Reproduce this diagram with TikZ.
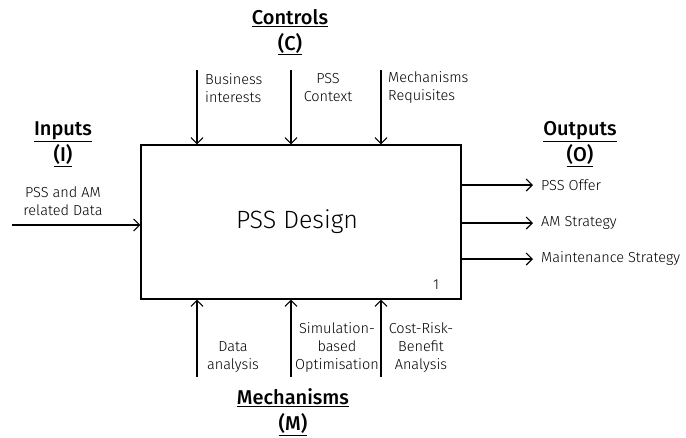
\documentclass[tikz,border=0pt]{standalone}
\usepackage{fontspec}
\setmainfont{Fira Sans}[UprightFont={* Light},BoldFont={* Medium}]
\usetikzlibrary{arrows.meta}
\begin{document}
\begin{tikzpicture}[x=1pt,y=-1pt,
  conn/.style={line width=1.2pt,-{Straight Barb[length=6pt,width=12pt,line width=1.1pt]}},
  lbl/.style={font=\fontsize{14.5}{18}\selectfont,align=center,inner sep=0pt},
  head/.style={font=\fontsize{20}{26}\selectfont\bfseries,align=center,inner sep=0pt}]
\useasboundingbox (0,0) rectangle (686,437);
% activity box
\node[draw,line width=1.2pt,minimum width=320pt,minimum height=154pt,inner sep=0pt] (box) at (301,222) {};
\node[font=\fontsize{25}{30}\selectfont] (title) at (297,222) {PSS Design};
\node[lbl] (num) at (436,285) {1};
% controls
\node[head] (hc) at (290,32) {\underline{Controls}\\\underline{(C)}};
\coordinate (c1) at (197,70);
\coordinate (c2) at (291,70);
\coordinate (c3) at (381,70);
\draw[conn] (c1) -- (c1 |- box.north);
\draw[conn] (c2) -- (c2 |- box.north);
\draw[conn] (c3) -- (c3 |- box.north);
\node[lbl,align=left,anchor=west] (lc1) at (205,88) {Business\\interests};
\node[lbl] (lc2) at (328,88) {PSS\\Context};
\node[lbl,align=left,anchor=west] (lc3) at (388,88) {Mechanisms\\Requisites};
% inputs
\node[head] (hi) at (63,144) {\underline{Inputs}\\\underline{(I)}};
\node[lbl] (li) at (63,201) {PSS and AM\\related Data};
\coordinate (i1) at (12,225);
\draw[conn] (i1) -- (i1 -| box.west);
% outputs
\node[head] (ho) at (580,144) {\underline{Outputs}\\\underline{(O)}};
\node[lbl,anchor=west] (o1) at (541,185) {PSS Offer};
\node[lbl,anchor=west] (o2) at (541,223) {AM Strategy};
\node[lbl,anchor=west] (o3) at (541,259) {Maintenance Strategy};
\draw[conn] (o1 -| box.east) -- ([xshift=-8pt]o1.west);
\draw[conn] (o2 -| box.east) -- ([xshift=-8pt]o2.west);
\draw[conn] (o3 -| box.east) -- ([xshift=-8pt]o3.west);
% mechanisms
\coordinate (m1) at (197,377);
\coordinate (m2) at (291,377);
\coordinate (m3) at (381,377);
\draw[conn] (m1) -- (m1 |- box.south);
\draw[conn] (m2) -- (m2 |- box.south);
\draw[conn] (m3) -- (m3 |- box.south);
\node[lbl] (lm1) at (233,357) {Data\\analysis};
\node[lbl] (lm2) at (337,348) {Simulation-\\based\\Optimisation};
\node[lbl] (lm3) at (421,348) {Cost-Risk-\\Benefit\\Analysis};
\node[head] (hm) at (293,412) {\underline{Mechanisms}\\\underline{(M)}};
\end{tikzpicture}
\end{document}
